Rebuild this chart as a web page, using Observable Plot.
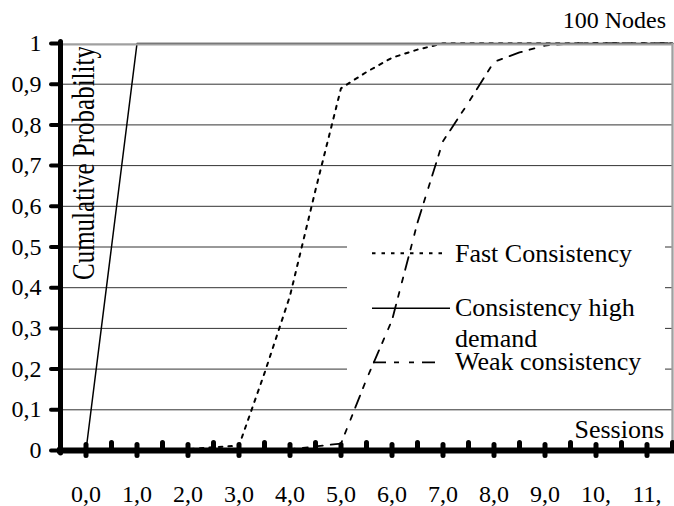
<!DOCTYPE html>
<html><head><meta charset="utf-8">
<script src="https://cdn.jsdelivr.net/npm/d3@7"></script>
<script src="https://cdn.jsdelivr.net/npm/@observablehq/plot@0.6"></script>
<style>
body{margin:0;background:#fff}
svg{display:block}
svg text{font-family:"Liberation Serif","Times New Roman",Times,serif}
</style>
</head><body><div id="chart"></div>
<script>
const sessions = [0.0, 0.5, 1.0, 1.5, 2.0, 2.5, 3.0, 3.5, 4.0, 4.5, 5.0, 5.5, 6.0, 6.5, 7.0, 7.5, 8.0, 8.5, 9.0, 9.5, 10.0, 10.5, 11.0, 11.5];
const fastConsistency = [0, 0, 0, 0, 0.003, 0.008, 0.012, 0.19, 0.38, 0.64, 0.89, 0.93, 0.965, 0.985, 1, 1, 1, 1, 1, 1, 1, 1, 1, 1];
const highDemand = [0, 0.5, 1, 1, 1, 1, 1, 1, 1, 1, 1, 1, 1, 1, 1, 1, 1, 1, 1, 1, 1, 1, 1, 1];
const weakConsistency = [0, 0, 0, 0, 0, 0, 0, 0, 0.003, 0.01, 0.017, 0.175, 0.32, 0.56, 0.76, 0.855, 0.955, 0.978, 0.995, 1, 1, 1, 1, 1];
const seriesNames = ["Fast Consistency", "Consistency high demand", "Weak consistency"];
const yTicks = [0, 0.1, 0.2, 0.3, 0.4, 0.5, 0.6, 0.7, 0.8, 0.9, 1];
const yTickLabels = ["0", "0,1", "0,2", "0,3", "0,4", "0,5", "0,6", "0,7", "0,8", "0,9", "1"];
const xMajorTicks = [0, 1, 2, 3, 4, 5, 6, 7, 8, 9, 10, 11];
const xTickLabels = ["0,0", "1,0", "2,0", "3,0", "4,0", "5,0", "6,0", "7,0", "8,0", "9,0", "10,", "11,"];
const xMinorTicks = [0.5, 1.5, 2.5, 3.5, 4.5, 5.5, 6.5, 7.5, 8.5, 9.5, 10.5, 11.5];
const chartTitle = "100 Nodes";
const xTitle = "Sessions";
const yTitle = "Cumulative Probability";

const styles = {
  "Fast Consistency": {dash: "3.5,6", width: 2},
  "Consistency high demand": {dash: null, width: 1.5},
  "Weak consistency": {dash: "13,8,5,10,5,8", width: 1.8}
};

const rows = [];
[fastConsistency, highDemand, weakConsistency].forEach((vals, k) => {
  sessions.forEach((s, i) => rows.push({series: seriesNames[k], session: s, p: vals[i]}));
});

const serif = '"Liberation Serif", "Times New Roman", Times, serif';

function legendBox() {
  const g = d3.create("svg:g");
  g.append("rect").attr("x", 347).attr("y", 226).attr("width", 318).attr("height", 164).attr("fill", "white");
  return g.node();
}

function annotations() {
  const g = d3.create("svg:g").attr("font-family", serif).attr("fill", "black").attr("text-anchor", "start");
  const items = [
    {name: seriesNames[0], ly: 253.3, lx1: 372, lx2: 447, lines: ["Fast Consistency"], ty: 262},
    {name: seriesNames[1], ly: 308.3, lx1: 372, lx2: 450, lines: ["Consistency high", "demand"], ty: 316},
    {name: seriesNames[2], ly: 362.3, lx1: 373, lx2: 442, lines: ["Weak consistency"], ty: 370}
  ];
  for (const it of items) {
    const st = styles[it.name];
    g.append("line").attr("x1", it.lx1).attr("x2", it.lx2).attr("y1", it.ly).attr("y2", it.ly)
      .attr("stroke", "black").attr("stroke-width", st.width)
      .attr("stroke-dasharray", st.dash);
    const t = g.append("text").attr("x", 455).attr("y", it.ty).attr("font-size", 26).attr("text-anchor", "start");
    it.lines.forEach((ln, j) => t.append("tspan").attr("x", 455).attr("dy", j === 0 ? 0 : 31).text(ln));
  }
  g.append("text").attr("x", 664).attr("y", 438).attr("text-anchor", "end").attr("font-size", 26).text(xTitle);
  g.append("text").attr("x", 666).attr("y", 28.3).attr("text-anchor", "end").attr("font-size", 24).text(chartTitle);
  const defs = g.append("defs");
  defs.append("clipPath").attr("id", "ytclip").append("rect").attr("x", 0).attr("y", 47).attr("width", 200).attr("height", 460);
  g.append("g").attr("clip-path", "url(#ytclip)")
    .append("text")
    .attr("text-anchor", "start")
    .attr("transform", "translate(93.5,280) rotate(-90) scale(1,1.3)")
    .attr("font-size", 25)
    .text(yTitle);
  return g.node();
}

const chart = Plot.plot({
  width: 674,
  height: 506,
  marginLeft: 60,
  marginRight: 2,
  marginTop: 43,
  marginBottom: 56,
  x: {domain: [-0.5, 11.5]},
  y: {domain: [0, 1]},
  style: {fontFamily: serif, background: "white", color: "black", fontSize: "24px"},
  marks: [
    Plot.ruleY(yTicks.filter(d => d > 0 && d < 1), {stroke: "#333", strokeWidth: 1}),
    legendBox,
    ...seriesNames.map(name => Plot.line(rows.filter(r => r.series === name), {
      x: "session", y: "p", stroke: "black",
      strokeWidth: styles[name].width, strokeDasharray: styles[name].dash
    })),
    Plot.ruleY([1], {stroke: "#a0a0a0", strokeWidth: 2.3, dy: 0.8}),
    Plot.ruleX([11.5], {stroke: "#a0a0a0", strokeWidth: 2.3}),
    Plot.ruleY([0], {stroke: "black", strokeWidth: 6, insetLeft: -3, insetRight: -2}),
    Plot.ruleX([-0.5], {stroke: "black", strokeWidth: 5, strokeLinecap: "round", insetTop: -1.5, insetBottom: -3}),
    Plot.axisY(yTicks, {
      tickSize: 9, tickPadding: 10, strokeWidth: 4, strokeLinecap: "round",
      fontSize: 24, fontFamily: serif, label: null, tickFormat: d => yTickLabels[yTicks.indexOf(d)]
    }),
    Plot.ruleX(xMajorTicks, {x: d => d, y1: () => 0, y2: () => 0, insetTop: 5.5, insetBottom: 5.5,
      stroke: "black", strokeWidth: 5, strokeLinecap: "round"}),
    Plot.ruleX(xMinorTicks, {x: d => d, y1: () => 0, y2: () => 0, insetTop: -0.5, insetBottom: 7.5,
      stroke: "black", strokeWidth: 5, strokeLinecap: "round"}),
    Plot.axisX(xMajorTicks, {
      tickSize: 0, tickPadding: 34, fontSize: 24, fontFamily: serif, label: null,
      tickFormat: d => xTickLabels[xMajorTicks.indexOf(d)]
    }),
    annotations
  ]
});
document.getElementById("chart").appendChild(chart);
</script>
</body></html>
